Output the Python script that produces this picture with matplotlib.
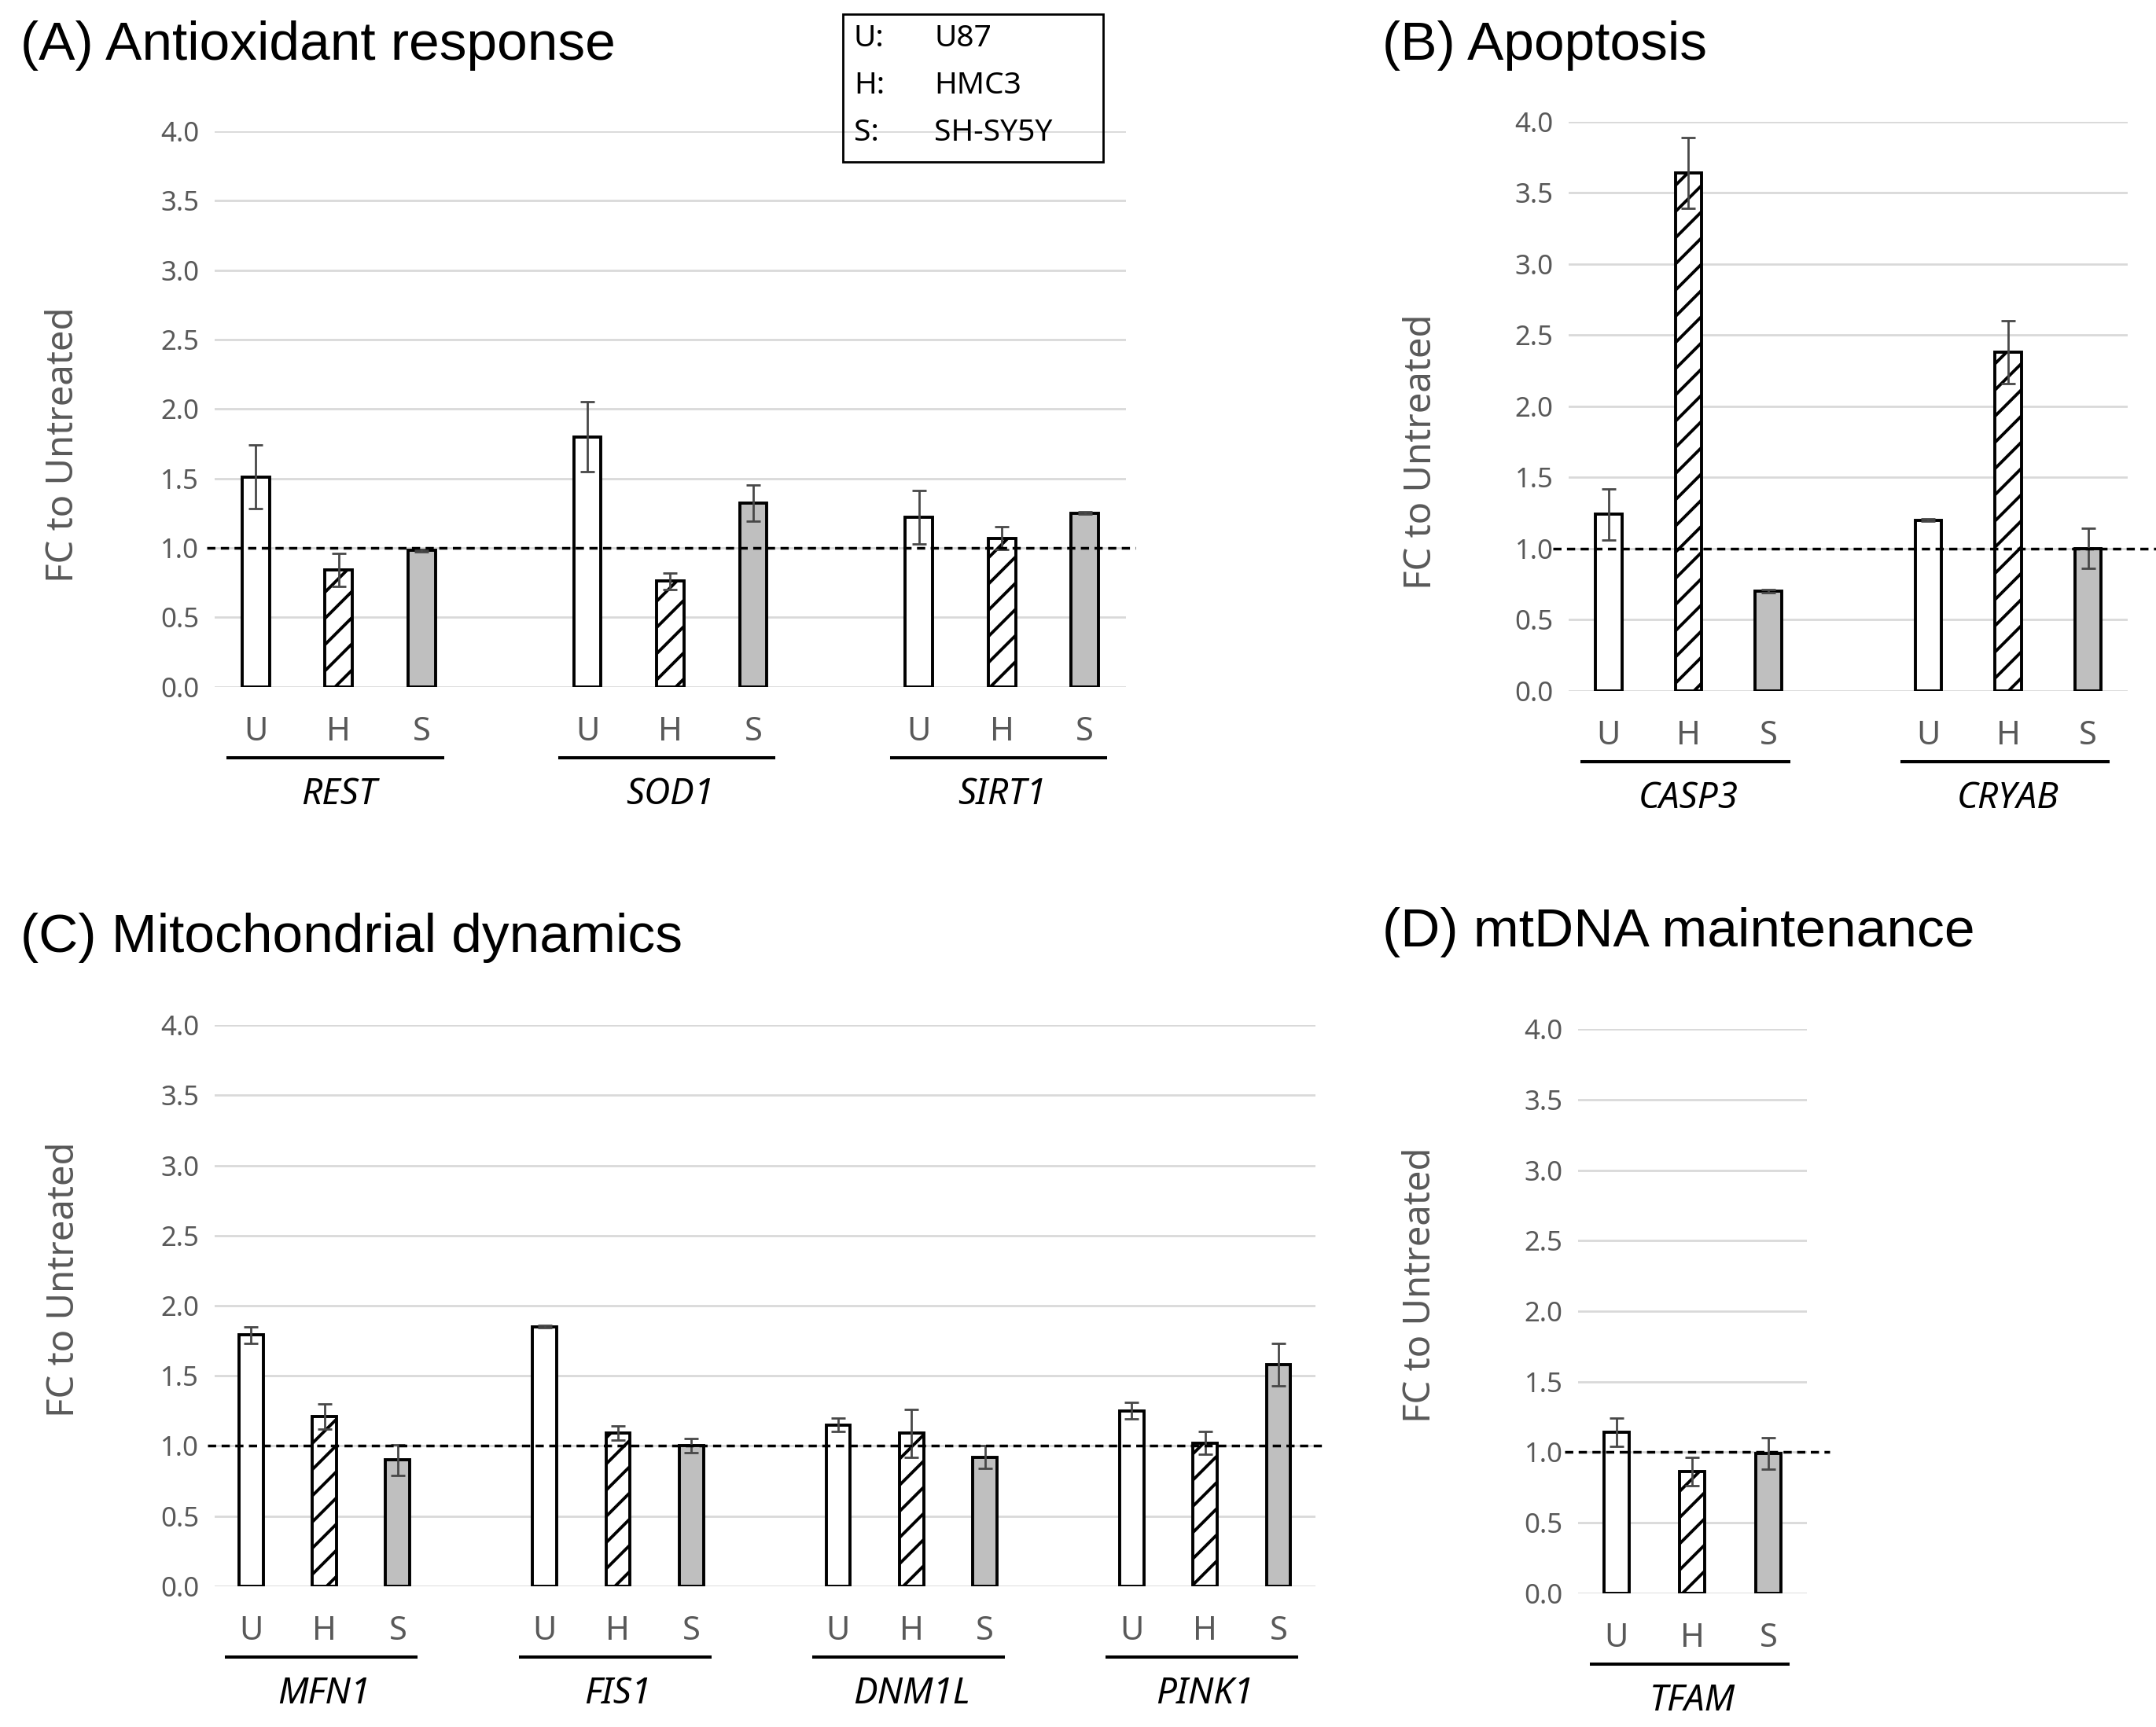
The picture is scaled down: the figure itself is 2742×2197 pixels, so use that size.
import matplotlib
matplotlib.use("Agg")
import matplotlib.pyplot as plt
from matplotlib import transforms
from matplotlib.patches import Rectangle

# cell lines
cells = ["U", "H", "S"]
cell_names = ["U87", "HMC3", "SH-SY5Y"]

# (A) antioxidant response
genes_a = ["REST", "SOD1", "SIRT1"]
u87_a = [1.51, 1.80, 1.22]
hmc3_a = [0.84, 0.76, 1.07]
shsy5y_a = [0.98, 1.32, 1.25]
u87_a_err = [0.23, 0.25, 0.19]
hmc3_a_err = [0.12, 0.06, 0.08]
shsy5y_a_err = [0.01, 0.13, 0.01]

# (B) apoptosis
genes_b = ["CASP3", "CRYAB"]
u87_b = [1.24, 1.20]
hmc3_b = [3.64, 2.38]
shsy5y_b = [0.70, 1.00]
u87_b_err = [0.18, 0.01]
hmc3_b_err = [0.25, 0.22]
shsy5y_b_err = [0.01, 0.14]

# (C) mitochondrial dynamics
genes_c = ["MFN1", "FIS1", "DNM1L", "PINK1"]
u87_c = [1.79, 1.85, 1.15, 1.25]
hmc3_c = [1.21, 1.09, 1.09, 1.02]
shsy5y_c = [0.90, 1.00, 0.92, 1.58]
u87_c_err = [0.06, 0.01, 0.05, 0.06]
hmc3_c_err = [0.09, 0.05, 0.17, 0.08]
shsy5y_c_err = [0.11, 0.05, 0.08, 0.15]

# (D) mtDNA maintenance
genes_d = ["TFAM"]
u87_d = [1.14]
hmc3_d = [0.86]
shsy5y_d = [0.99]
u87_d_err = [0.10]
hmc3_d_err = [0.10]
shsy5y_d_err = [0.11]

yticks = [0.0, 0.5, 1.0, 1.5, 2.0, 2.5, 3.0, 3.5, 4.0]

FILLS = ["white", "white", "#bfbfbf"]
HATCHES = [None, "//", None]
GRAY = "#595959"
TICK_FONT = "Noto Sans"
TITLE_FONT = "Liberation Sans"

plt.rcParams["hatch.linewidth"] = 1.4

fig = plt.figure(figsize=(13.71, 10.985), dpi=200)


def draw_panel(rect, genes, means, errs, title, title_xy, ylab_xy, dash_span):
    ax = fig.add_axes(rect)
    ngroups = len(genes)
    pos = []
    labels = []
    for c in range(3):
        xs = [g * 4 + c for g in range(ngroups)]
        ax.bar(xs, means[c], width=0.33, color=FILLS[c], edgecolor="black",
               hatch=HATCHES[c], linewidth=1.4, zorder=3)
        ax.errorbar(xs, means[c], yerr=errs[c], fmt="none", ecolor="#484848",
                    elinewidth=1.0, capsize=3.3, capthick=1.0, zorder=4)
    for g in range(ngroups):
        for c in range(3):
            pos.append(g * 4 + c)
            labels.append(cells[c])

    ax.set_xlim(-0.5, ngroups * 4 - 1.5)
    ax.set_ylim(0, 4.0)
    ax.set_yticks(yticks, [f"{t:.1f}" for t in yticks])
    ax.set_xticks(pos, labels)
    ax.tick_params(axis="both", length=0, labelcolor=GRAY)
    ax.tick_params(axis="y", labelsize=12.5, pad=7)
    ax.tick_params(axis="x", labelsize=15, pad=13)
    for lab in ax.get_xticklabels() + ax.get_yticklabels():
        lab.set_family(TICK_FONT)
    for s in ax.spines.values():
        s.set_visible(False)
    ax.grid(axis="y", color="#d9d9d9", linewidth=1.0, zorder=0)
    ax.set_axisbelow(True)

    ax.set_ylabel("FC to Untreated", fontsize=17, color=GRAY, family=TICK_FONT)
    ax.yaxis.set_label_coords(*ylab_xy)

    # reference line at FC = 1
    ax.plot(dash_span, [1, 1], transform=ax.get_yaxis_transform(), color="black",
            linewidth=1.25, linestyle=(0, (3, 2)), clip_on=False, zorder=5)

    # group underlines and gene names
    under = transforms.offset_copy(ax.get_xaxis_transform(), fig=fig, y=-32.5, units="points")
    for g, gene in enumerate(genes):
        x0 = g * 4
        ax.plot([x0 - 0.33, x0 + 2.25], [0, 0], transform=under, color="black",
                linewidth=1.45, clip_on=False)
        ax.annotate(gene, xy=(x0 + 1, 0), xycoords=ax.get_xaxis_transform(),
                    xytext=(0, -49.5), textcoords="offset points", ha="center",
                    va="center", style="italic", fontsize=16.5, family=TICK_FONT)

    fig.text(title_xy[0], title_xy[1], title, fontsize=25, family=TITLE_FONT,
             ha="left", va="center")
    return ax


draw_panel([0.0994, 0.6024, 0.4230, 0.3216], genes_a,
           [u87_a, hmc3_a, shsy5y_a], [u87_a_err, hmc3_a_err, shsy5y_a_err],
           "(A) Antioxidant response", (0.0096, 0.9736), (-0.145, 0.435), [-0.008, 1.01])
draw_panel([0.7276, 0.6000, 0.2594, 0.3296], genes_b,
           [u87_b, hmc3_b, shsy5y_b], [u87_b_err, hmc3_b_err, shsy5y_b_err],
           "(B) Apoptosis", (0.641, 0.9736), (-0.23, 0.42), [-0.028, 1.06])
draw_panel([0.0994, 0.0816, 0.5106, 0.3248], genes_c,
           [u87_c, hmc3_c, shsy5y_c], [u87_c_err, hmc3_c_err, shsy5y_c_err],
           "(C) Mitochondrial dynamics", (0.0096, 0.457), (-0.12, 0.547), [-0.006, 1.01])
draw_panel([0.7320, 0.0776, 0.1060, 0.3264], genes_d,
           [u87_d, hmc3_d, shsy5y_d], [u87_d_err, hmc3_d_err, shsy5y_d_err],
           "(D) mtDNA maintenance", (0.641, 0.460), (-0.61, 0.547), [-0.06, 1.1])

# legend box for cell line abbreviations
fig.patches.append(Rectangle((0.391, 0.9064), 0.1205, 0.0856, transform=fig.transFigure,
                             fill=False, edgecolor="black", linewidth=1.0))
for i, (c, name) in enumerate(zip(cells, cell_names)):
    y = 0.9776 - i * 0.0272
    fig.text(0.396, y, c + ":", fontsize=14, family=TICK_FONT, va="center")
    fig.text(0.4333, y, name, fontsize=14, family=TICK_FONT, va="center")

fig.savefig("out.png", dpi=200)
